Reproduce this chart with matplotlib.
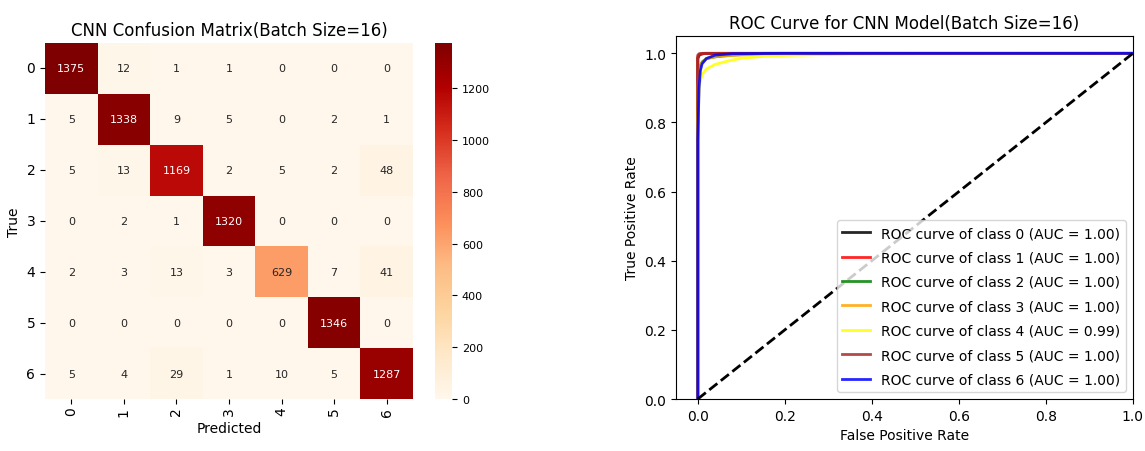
import matplotlib
matplotlib.use('Agg')
import matplotlib.pyplot as plt
import seaborn as sns
import numpy as np

classes = ['0', '1', '2', '3', '4', '5', '6']
cm = np.array([
    [1375, 12, 1, 1, 0, 0, 0],
    [5, 1338, 9, 5, 0, 2, 1],
    [5, 13, 1169, 2, 5, 2, 48],
    [0, 2, 1, 1320, 0, 0, 0],
    [2, 3, 13, 3, 629, 7, 41],
    [0, 0, 0, 0, 0, 1346, 0],
    [5, 4, 29, 1, 10, 5, 1287],
])

# per-class roc points (fpr, tpr)
roc_fpr = [
    [0.0, 0.0, 0.004, 0.015, 1.0],
    [0.0, 0.0, 0.006, 0.02, 1.0],
    [0.0, 0.0, 0.002, 0.005, 0.01, 0.02, 0.04, 0.08, 0.15, 1.0],
    [0.0, 0.0, 0.003, 0.008, 0.02, 0.05, 0.1, 0.2, 0.35, 1.0],
    [0.0, 0.0, 0.004, 0.01, 0.02, 0.04, 0.07, 0.1, 0.17, 0.35, 1.0],
    [0.0, 0.0, 0.003, 0.01, 1.0],
    [0.0, 0.0, 0.003, 0.006, 0.01, 0.02, 0.04, 0.08, 0.2, 1.0],
]
roc_tpr = [
    [0.0, 0.985, 0.996, 1.0, 1.0],
    [0.0, 0.99, 0.998, 1.0, 1.0],
    [0.0, 0.86, 0.93, 0.96, 0.975, 0.985, 0.99, 0.995, 1.0, 1.0],
    [0.0, 0.9, 0.95, 0.97, 0.985, 0.992, 0.995, 0.997, 0.999, 1.0],
    [0.0, 0.8, 0.91, 0.94, 0.955, 0.968, 0.978, 0.986, 0.993, 0.998, 1.0],
    [0.0, 0.995, 0.999, 1.0, 1.0],
    [0.0, 0.75, 0.9, 0.95, 0.97, 0.985, 0.995, 0.999, 1.0, 1.0],
]
roc_auc = [1.00, 1.00, 1.00, 1.00, 0.99, 1.00, 1.00]
colors = ['black', 'red', 'green', 'orange', 'yellow', 'brown', 'blue']

fig = plt.figure(figsize=(11.45, 4.52), dpi=100)
ax1 = fig.add_axes([0.0393, 0.115, 0.3214, 0.7876])
cax = fig.add_axes([0.38, 0.115, 0.0148, 0.7876])
ax2 = fig.add_axes([0.5904, 0.115, 0.399, 0.803])

sns.heatmap(cm, annot=True, fmt='d', cmap='OrRd', ax=ax1, cbar_ax=cax,
            xticklabels=classes, yticklabels=classes,
            annot_kws={'fontsize': 8})
ax1.set_title('CNN Confusion Matrix(Batch Size=16)', fontsize=12)
ax1.set_xlabel('Predicted', fontsize=10, labelpad=4)
ax1.set_ylabel('True', fontsize=10)
ax1.tick_params(axis='y', rotation=0, labelsize=10)
ax1.tick_params(axis='x', rotation=90, labelsize=10, pad=2)
cax.tick_params(labelsize=8)

for i in range(len(classes)):
    ax2.plot(roc_fpr[i], roc_tpr[i], color=colors[i], lw=2, alpha=0.85,
             label='ROC curve of class {0} (AUC = {1:0.2f})'.format(i, roc_auc[i]))
ax2.plot([0, 1], [0, 1], 'k--', lw=2)
ax2.set_xlim([-0.05, 1.0])
ax2.set_ylim([0.0, 1.05])
ax2.set_xlabel('False Positive Rate')
ax2.set_ylabel('True Positive Rate')
ax2.set_title('ROC Curve for CNN Model(Batch Size=16)', fontsize=12)
ax2.legend(loc='lower right', labelspacing=0.75)

fig.savefig('out.png', dpi=100)
